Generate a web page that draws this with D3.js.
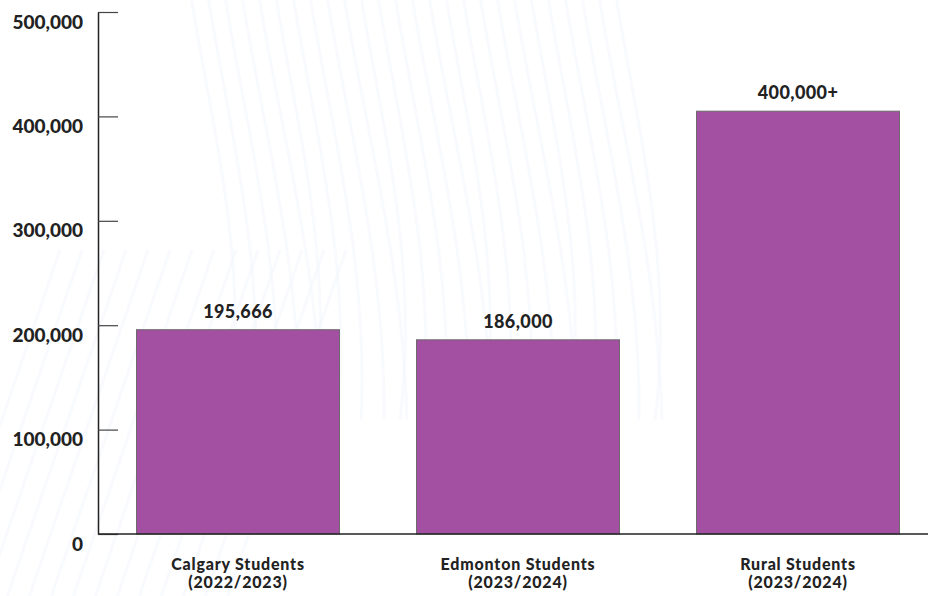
<!DOCTYPE html>
<html>
<head>
<meta charset="utf-8">
<script src="https://cdn.jsdelivr.net/npm/d3@7"></script>
<style>
  html, body { margin: 0; padding: 0; background: #ffffff; }
  svg { display: block; }
  .tick text { font-family: Lato, "Open Sans", sans-serif; font-weight: 900; }
</style>
</head>
<body>
<svg id="chart" width="928" height="596"></svg>
<script>
// Student counts by region
const categories = ["Calgary Students", "Edmonton Students", "Rural Students"];
const periods = ["(2022/2023)", "(2023/2024)", "(2023/2024)"];
const students = [195666, 186000, 405000];
const valueLabels = ["195,666", "186,000", "400,000+"];
const yTicks = [0, 100000, 200000, 300000, 400000, 500000];

const width = 928, height = 596;
const svg = d3.select("#chart");

// faint decorative line-work in the background
const deco = svg.append("g").attr("fill", "none").attr("stroke", "#f3f6fb").attr("stroke-width", 3);
for (let i = 0; i < 26; i++) {
  const x0 = 190 + i * 17;
  deco.append("path")
    .attr("d", `M${x0},-10 C${x0 + 20},120 ${x0 + 60},260 ${x0 + 40 + (i % 5) * 6},420`)
    .attr("opacity", 0.6);
}
for (let i = 0; i < 14; i++) {
  const x0 = -60 + i * 22;
  deco.append("path")
    .attr("d", `M${x0},600 L${x0 + 120},250`)
    .attr("opacity", 0.6);
}

const x = d3.scaleBand()
  .domain(categories)
  .range([98, 938])
  .paddingInner(0.275)
  .paddingOuter(0.1375);

const y = d3.scaleLinear()
  .domain([0, 500000])
  .range([534, 12]);

// bars
svg.append("g").selectAll("rect")
  .data(categories)
  .join("rect")
  .attr("x", d => x(d))
  .attr("width", x.bandwidth())
  .attr("y", (d, i) => y(students[i]))
  .attr("height", (d, i) => y(0) - y(students[i]))
  .attr("fill", "#a34fa2")
  .attr("stroke", "#6b6b6b")
  .attr("stroke-width", 1);

// value labels above bars
svg.append("g").selectAll("text")
  .data(categories)
  .join("text")
  .attr("x", d => x(d) + x.bandwidth() / 2)
  .attr("y", (d, i) => y(students[i]) - 12)
  .attr("text-anchor", "middle")
  .attr("font-family", "Lato, 'Open Sans', sans-serif")
  .attr("font-weight", 900)
  .attr("font-size", 18)
  .attr("letter-spacing", 0.4)
  .attr("fill", "#222")
  .text((d, i) => valueLabels[i]);

// y axis: ticks point inward, labels sit slightly below each tick
const yAxis = svg.append("g")
  .attr("transform", "translate(98,0)")
  .call(d3.axisLeft(y)
    .tickValues(yTicks)
    .tickFormat(d3.format(","))
    .tickSizeInner(-20)
    .tickSizeOuter(0)
    .tickPadding(15));
yAxis.select(".domain").attr("stroke", "#222").attr("stroke-width", 1.5);
yAxis.selectAll(".tick line").attr("stroke", "#444").attr("stroke-width", 1.2);
yAxis.selectAll(".tick text")
  .attr("font-size", 19)
  .attr("fill", "#222")
  .attr("dy", "0.85em");

// baseline
svg.append("line")
  .attr("x1", 98).attr("x2", 928)
  .attr("y1", y(0)).attr("y2", y(0))
  .attr("stroke", "#222").attr("stroke-width", 1.5);

// category labels, two lines each
const labelGroups = svg.append("g").selectAll("g")
  .data(categories)
  .join("g")
  .attr("transform", d => `translate(${x(d) + x.bandwidth() / 2},0)`);
const labelStyle = sel => sel
  .attr("text-anchor", "middle")
  .attr("font-family", "Lato, 'Open Sans', sans-serif")
  .attr("font-weight", 900)
  .attr("font-size", 16)
  .attr("letter-spacing", 0.8)
  .attr("fill", "#222");
labelGroups.append("text").call(labelStyle).attr("y", 570).text(d => d);
labelGroups.append("text").call(labelStyle).attr("y", 588).text((d, i) => periods[i]);
</script>
</body>
</html>
